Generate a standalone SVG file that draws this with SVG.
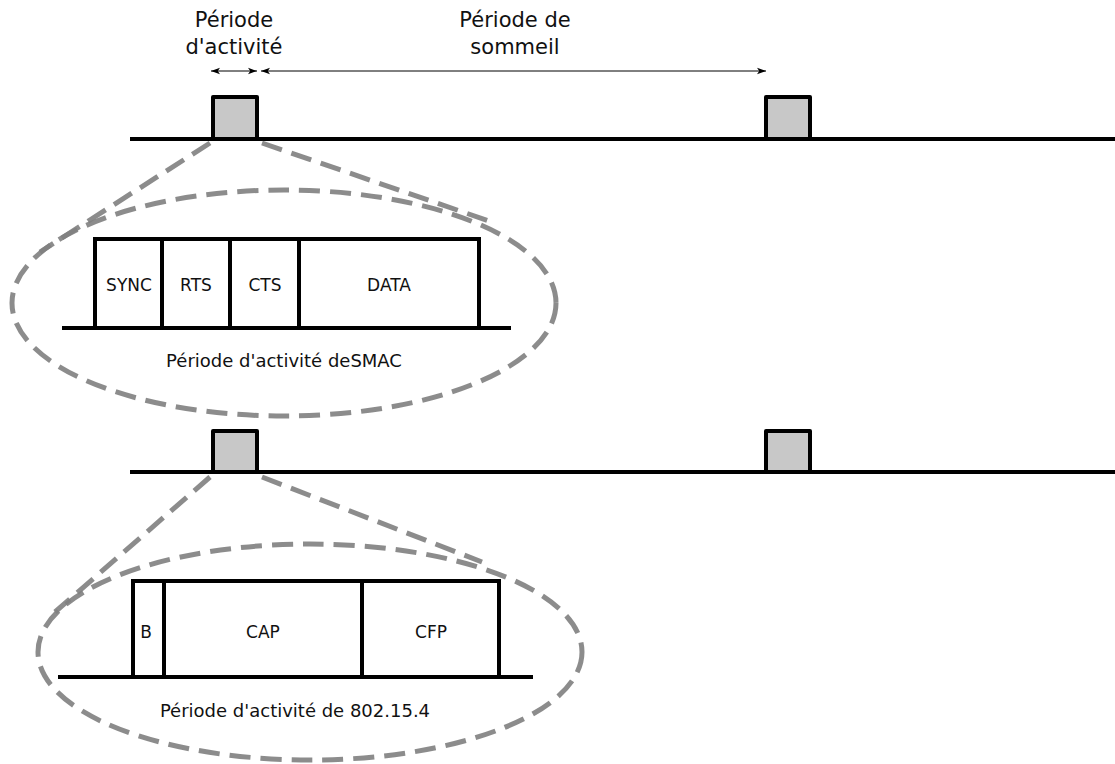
<svg xmlns="http://www.w3.org/2000/svg" width="1115" height="764" viewBox="0 0 1115 764">
<defs>
<marker id="ah" viewBox="0 0 10 10" refX="10" refY="5" markerWidth="9" markerHeight="9" orient="auto-start-reverse" markerUnits="userSpaceOnUse">
<path d="M0,1.5 L10,5 L0,8.5 L2.5,5 Z" fill="#000"/>
</marker>
<style>
.t{font-family:"DejaVu Sans","Liberation Sans",sans-serif;fill:#111;text-anchor:middle}
.big{font-size:21px}
.sm{font-size:17px}
.cap{font-size:18px}
.line{stroke:#000;stroke-width:4;fill:none}
.pulse{fill:#c8c8c8;stroke:#000;stroke-width:4;stroke-linejoin:round}
.cell{fill:#fff;stroke:#000;stroke-width:4}
.dash{fill:none;stroke:#808080;stroke-width:5;stroke-dasharray:21 10;stroke-opacity:0.9}
.arr{stroke:#000;stroke-width:1;marker-start:url(#ah);marker-end:url(#ah)}
</style>
</defs>
<rect width="1115" height="764" fill="#fff"/>

<g id="labels-top">
<text class="t big" x="234" y="27">Période</text>
<text class="t big" x="234" y="54">d'activité</text>
<text class="t big" x="515" y="27">Période de</text>
<text class="t big" x="515" y="54">sommeil</text>
</g>

<g id="timeline-1">
<line class="line" x1="130" y1="139" x2="1115" y2="139"/>
<rect class="pulse" x="213" y="97" width="44" height="42"/>
<rect class="pulse" x="766" y="97" width="44" height="42"/>
</g>

<g id="timeline-2">
<line class="line" x1="130" y1="472" x2="1115" y2="472"/>
<rect class="pulse" x="213" y="431" width="44" height="41"/>
<rect class="pulse" x="766" y="431" width="44" height="41"/>
</g>

<g id="zoom-1">
<ellipse class="dash" cx="284" cy="303" rx="272" ry="113"/>
<rect class="cell" x="95" y="239" width="67" height="89"/>
<rect class="cell" x="162" y="239" width="68" height="89"/>
<rect class="cell" x="230" y="239" width="69" height="89"/>
<rect class="cell" x="299" y="239" width="180" height="89"/>
<line class="line" x1="62" y1="328" x2="511" y2="328"/>
<text class="t sm" x="129" y="291">SYNC</text>
<text class="t sm" x="196" y="291">RTS</text>
<text class="t sm" x="265" y="291">CTS</text>
<text class="t sm" x="389" y="291">DATA</text>
<text class="t cap" x="284" y="367">Période d'activité deSMAC</text>
</g>

<g id="zoom-2">
<ellipse class="dash" cx="310" cy="652" rx="272" ry="108"/>
<rect class="cell" x="133" y="581" width="31" height="96"/>
<rect class="cell" x="164" y="581" width="198" height="96"/>
<rect class="cell" x="362" y="581" width="137" height="96"/>
<line class="line" x1="58" y1="677" x2="533" y2="677"/>
<text class="t sm" x="146" y="638">B</text>
<text class="t sm" x="263" y="638">CAP</text>
<text class="t sm" x="431" y="638">CFP</text>
<text class="t cap" x="295" y="717">Période d'activité de 802.15.4</text>
</g>

<g id="connectors">
<line class="arr" x1="211" y1="71" x2="257" y2="71"/>
<line class="arr" x1="261" y1="71" x2="766" y2="71"/>
<line class="dash" x1="210" y1="143" x2="40" y2="252"/>
<line class="dash" x1="262" y1="143" x2="492" y2="222"/>
<line class="dash" x1="210" y1="477" x2="55" y2="612"/>
<line class="dash" x1="262" y1="477" x2="482" y2="562"/>
</g>
</svg>
